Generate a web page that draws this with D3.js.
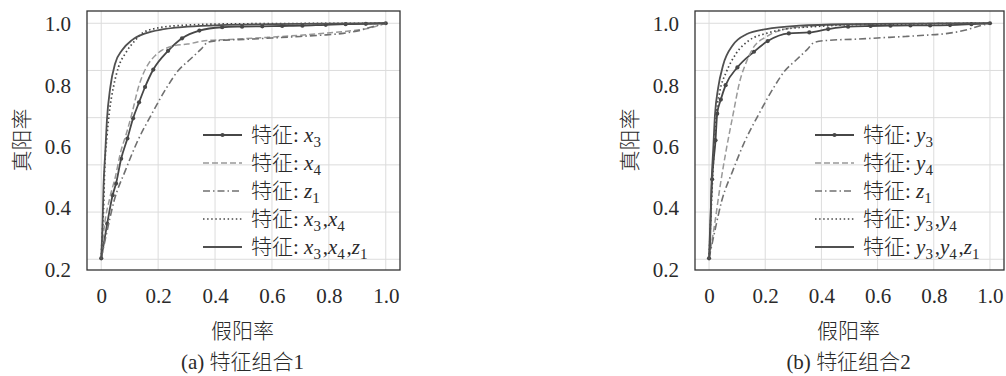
<!DOCTYPE html>
<html>
<head>
<meta charset="utf-8">
<script src="https://cdn.jsdelivr.net/npm/d3@7"></script>
<style>
  body { margin: 0; background: #fff; }
  text { font-family: "Liberation Serif", "DejaVu Serif", "Noto Sans CJK SC", serif; fill: #2a2a2a; }
  .cjk { font-family: "Noto Sans CJK SC", sans-serif; font-weight: 300; }
</style>
</head>
<body>
<svg id="chart" width="1006" height="376"></svg>
<script>
// ticks
const xTicks = [0, 0.2, 0.4, 0.6, 0.8, 1.0];
const yTicks = [0.2, 0.4, 0.6, 0.8, 1.0];
const yGrid = [0.23, 0.384, 0.538, 0.692, 0.846, 1.0];

// ROC points [fpr, tpr]
const rocX3 = [[0,0.233],[0.021,0.346],[0.040,0.439],[0.052,0.477],[0.070,0.558],[0.092,0.624],
  [0.112,0.690],[0.133,0.742],[0.154,0.792],[0.183,0.849],[0.235,0.910],[0.284,0.951],[0.345,0.976],
  [0.425,0.987],[0.495,0.989],[0.566,0.990],[0.636,0.991],[0.707,0.992],[0.789,0.995],[0.859,0.997],
  [0.930,0.998],[1,1]];
const rocX4 = [[0,0.233],[0.010,0.330],[0.030,0.430],[0.050,0.500],[0.067,0.575],[0.090,0.645],
  [0.108,0.706],[0.131,0.792],[0.150,0.840],[0.167,0.869],[0.190,0.895],[0.214,0.912],[0.249,0.925],
  [0.303,0.932],[0.373,0.944],[0.450,0.947],[0.583,0.954],[0.700,0.961],[0.818,0.970],[0.900,0.978],
  [0.935,0.983],[1,1]];
const rocZ1 = [[0,0.233],[0.020,0.320],[0.045,0.420],[0.085,0.520],[0.125,0.610],[0.178,0.705],
  [0.230,0.790],[0.270,0.845],[0.310,0.880],[0.350,0.915],[0.375,0.938],[0.420,0.944],[0.520,0.948],
  [0.600,0.952],[0.700,0.957],[0.770,0.961],[0.850,0.967],[0.910,0.977],[0.950,0.988],[1,1]];
const rocX3X4 = [[0,0.233],[0.004,0.320],[0.008,0.390],[0.012,0.520],[0.020,0.629],[0.028,0.706],
  [0.043,0.792],[0.061,0.858],[0.085,0.902],[0.120,0.945],[0.140,0.965],[0.200,0.985],[0.300,0.994],
  [0.450,0.998],[1,1]];
const rocX3X4Z1 = [[0,0.233],[0.005,0.357],[0.008,0.466],[0.014,0.575],[0.020,0.684],[0.032,0.792],
  [0.049,0.869],[0.073,0.912],[0.108,0.945],[0.155,0.967],[0.214,0.980],[0.261,0.986],[0.303,0.989],
  [0.420,0.994],[0.600,0.997],[0.800,0.999],[1,1]];

const rocY3 = [[0,0.233],[0.011,0.491],[0.023,0.618],[0.029,0.705],[0.042,0.751],[0.059,0.798],
  [0.101,0.856],[0.160,0.907],[0.209,0.942],[0.284,0.967],[0.357,0.970],[0.424,0.981],[0.495,0.989],
  [0.575,0.991],[0.646,0.992],[0.717,0.993],[0.787,0.993],[0.858,0.994],[0.934,0.997],[1,1]];
const rocY4 = [[0,0.233],[0.021,0.351],[0.038,0.460],[0.062,0.591],[0.085,0.700],[0.109,0.809],
  [0.133,0.874],[0.156,0.918],[0.204,0.956],[0.280,0.983],[0.357,0.990],[0.500,0.996],[0.750,0.999],[1,1]];
const rocY3Y4 = [[0,0.233],[0.008,0.400],[0.014,0.520],[0.020,0.620],[0.027,0.711],[0.038,0.776],
  [0.062,0.842],[0.097,0.902],[0.144,0.945],[0.204,0.967],[0.286,0.983],[0.357,0.988],[0.500,0.995],
  [0.750,0.998],[1,1]];
const rocY3Y4Z1 = [[0,0.233],[0.003,0.264],[0.009,0.482],[0.015,0.591],[0.021,0.700],[0.032,0.787],
  [0.050,0.863],[0.085,0.929],[0.133,0.964],[0.204,0.981],[0.321,0.992],[0.500,0.997],[0.750,0.999],[1,1]];

// legend labels: list of [letter, subscript]
const labelsA = [[["x","3"]], [["x","4"]], [["z","1"]], [["x","3"],["x","4"]], [["x","3"],["x","4"],["z","1"]]];
const labelsB = [[["y","3"]], [["y","4"]], [["z","1"]], [["y","3"],["y","4"]], [["y","3"],["y","4"],["z","1"]]];

const lineStyles = [
  { color: "#474747", width: 1.8, dash: null, marker: true },
  { color: "#999", width: 1.5, dash: "6,3" },
  { color: "#707070", width: 1.6, dash: "7,3,1.5,3" },
  { color: "#474747", width: 1.7, dash: "1.5,2.6" },
  { color: "#505050", width: 1.8, dash: null }
];

const svg = d3.select("#chart");
const plotTop = 11, plotBottom = 270;
const serif = "'Liberation Serif', 'DejaVu Serif', serif";
const fs = "21px";

function drawPanel(p) {
  const x = d3.scaleLinear().domain([-0.05, 1.05]).range([p.left, p.right]);
  const y = d3.scaleLinear().domain([0.195, 1.04]).range([plotBottom, plotTop]);
  const g = svg.append("g");

  // grid
  g.selectAll(".vgrid").data(xTicks).join("line")
    .attr("x1", d => x(d)).attr("x2", d => x(d))
    .attr("y1", plotTop).attr("y2", plotBottom)
    .attr("stroke", "#dcdcdc").attr("stroke-width", 1);
  g.selectAll(".hgrid").data(yGrid).join("line")
    .attr("x1", p.left).attr("x2", p.right)
    .attr("y1", d => y(d)).attr("y2", d => y(d))
    .attr("stroke", "#dcdcdc").attr("stroke-width", 1);

  // axes
  const fmt = d => d === 0 ? "0" : d3.format(".1f")(d);
  const xAxis = g.append("g")
    .attr("transform", `translate(0,${plotBottom})`)
    .call(d3.axisBottom(x).tickValues(xTicks).tickFormat(fmt).tickSize(0).tickPadding(18));
  const yAxis = g.append("g")
    .attr("transform", `translate(${p.left},1)`)
    .call(d3.axisLeft(y).tickValues(yTicks).tickFormat(fmt).tickSize(0).tickPadding(16));
  [xAxis, yAxis].forEach(a => {
    a.attr("font-family", null).attr("font-size", null);
    a.select(".domain").remove();
    a.selectAll("text").attr("fill", "#2a2a2a").style("font-size", fs)
      .style("font-family", serif);
  });

  // curves
  const line = d3.line().x(d => x(d[0])).y(d => y(d[1])).curve(d3.curveMonotoneX);
  p.series.forEach((s, i) => {
    const st = lineStyles[i];
    g.append("path")
      .datum(s)
      .attr("d", line)
      .attr("fill", "none")
      .attr("stroke", st.color)
      .attr("stroke-width", st.width)
      .attr("stroke-dasharray", st.dash);
    if (st.marker) {
      g.selectAll(".mk" + i).data(s).join("circle")
        .attr("cx", d => x(d[0])).attr("cy", d => y(d[1]))
        .attr("r", 2.1).attr("fill", st.color);
    }
  });

  // frame
  g.append("rect")
    .attr("x", p.left).attr("y", plotTop)
    .attr("width", p.right - p.left).attr("height", plotBottom - plotTop)
    .attr("fill", "none").attr("stroke", "#333").attr("stroke-width", 1.3);

  // legend
  const rowY = [135, 163, 191, 219, 247];
  p.labels.forEach((lab, i) => {
    const st = lineStyles[i];
    const ly = rowY[i];
    g.append("line")
      .attr("x1", p.legendX).attr("x2", p.legendX + 39)
      .attr("y1", ly).attr("y2", ly)
      .attr("stroke", st.color).attr("stroke-width", st.width)
      .attr("stroke-dasharray", st.dash);
    if (st.marker) {
      g.append("circle").attr("cx", p.legendX + 19.5).attr("cy", ly)
        .attr("r", 2.1).attr("fill", st.color);
    }
    const t = g.append("text")
      .attr("x", p.legendX + 48).attr("y", ly + 7)
      .style("font-size", fs).style("font-family", serif);
    t.append("tspan").attr("class", "cjk").text("特征");
    t.append("tspan").text(": ");
    lab.forEach((part, j) => {
      if (j > 0) t.append("tspan").text(",");
      t.append("tspan").style("font-style", "italic").text(part[0]);
      t.append("tspan").attr("dy", 5).style("font-size", "15px").text(part[1]);
      t.append("tspan").attr("dy", -5).text("\u200a");
    });
  });

  // axis titles and caption
  const cx = (p.left + p.right) / 2 - 1;
  g.append("text")
    .attr("class", "cjk")
    .attr("transform", `translate(${p.left - 67},140) rotate(-90)`)
    .attr("text-anchor", "middle").attr("dominant-baseline", "central")
    .style("font-size", fs).text("真阳率");
  g.append("text")
    .attr("class", "cjk")
    .attr("x", cx).attr("y", 338)
    .attr("text-anchor", "middle").style("font-size", fs).text("假阳率");
  const cap = g.append("text")
    .attr("x", cx).attr("y", 369)
    .attr("text-anchor", "middle").style("font-size", fs).style("font-family", serif);
  cap.append("tspan").text(p.caption[0] + " ");
  cap.append("tspan").attr("class", "cjk").text(p.caption[1]);
  cap.append("tspan").text(p.caption[2]);
}

drawPanel({
  left: 87, right: 400, legendX: 203,
  series: [rocX3, rocX4, rocZ1, rocX3X4, rocX3X4Z1],
  labels: labelsA, caption: ["(a)", "特征组合", "1"]
});
drawPanel({
  left: 695, right: 1004, legendX: 815,
  series: [rocY3, rocY4, rocZ1, rocY3Y4, rocY3Y4Z1],
  labels: labelsB, caption: ["(b)", "特征组合", "2"]
});
</script>
</body>
</html>
